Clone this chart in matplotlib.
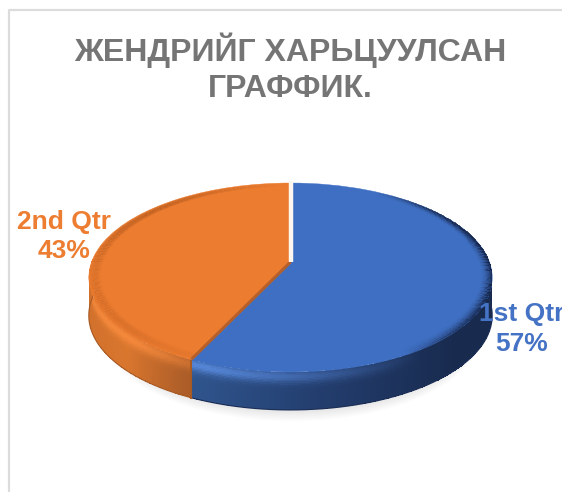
# 3D looking pie chart, two quarters
import numpy as np
import matplotlib
matplotlib.use('Agg')
import matplotlib.pyplot as plt
from matplotlib.patches import PathPatch, Ellipse
from matplotlib.path import Path
from matplotlib.colors import to_rgb

plt.rcParams['font.family'] = ['Liberation Sans', 'DejaVu Sans']

title = 'ЖЕНДРИЙГ ХАРЬЦУУЛСАН\nГРАФФИК.'
categories = ['1st Qtr', '2nd Qtr']
values = [57, 43]
colors = ['#3f6fc2', '#ec7c30']
label_colors = ['#4472c4', '#ed7d31']

# rim colours: (left, middle, right) going across the front of the pie
rim_blue = ['#30568f', '#223c6c', '#182a4d']
rim_orange = ['#d0702c', '#d9762e', '#ac5d28']
glow_blue = '#5b8de2'
glow_orange = '#f88b3d'

# pie geometry in pixels of the picture
W, H = 562, 492
CX, CY = 290.5, 262
R = 199.0
TILT = 0.462
PERSP = 0.164
DEPTH = 38 / R


def project(x, y):
    # flat unit disc -> tilted disc, back of the pie is smaller than the front
    s = 1 / (1 + PERSP * y)
    return x * s, y * s * TILT


def px(x, y):
    # picture pixels -> data coordinates
    return (x - CX) / R, (CY - y) / R


def mix(a, b, t):
    return np.array(a) * (1 - t) + np.array(b) * t


fig = plt.figure(figsize=(W / 100, H / 100), dpi=100, facecolor='white')
ax = fig.add_axes([0, 0, 1, 1])

wedges, _ = ax.pie(values, colors=colors, startangle=90, counterclock=False)
ax.set_aspect('auto')
x0, y0 = px(0, H)
x1, y1 = px(W, 0)
ax.set_xlim(x0, x1)
ax.set_ylim(y0, y1)
ax.axis('off')

# frame of the chart area, only left and top are in the picture
fx, fy = px(8.5, H)
gx, gy = px(8.5, 10.5)
hx, hy = px(W, 10.5)
ax.plot([fx, gx, hx], [fy, gy, hy], color='#dcdcdc', lw=1.6, zorder=1)

# soft shadow under the pie
sx, sy = px(292, 330)
for k in range(14):
    ax.add_patch(Ellipse((sx, sy), 2 * (0.90 + 0.0045 * k), 2 * (0.40 + 0.0045 * k),
                         fc='#999999', ec='none', alpha=0.02, zorder=2))

tt = np.linspace(0, 1, 25)
for w, rim, glow, edge in zip(wedges, [rim_blue, rim_orange], [glow_blue, glow_orange],
                              ['#1c2f57', '#a85a25']):
    # side of the slice, only the front half can be seen
    ang = np.radians(np.linspace(w.theta1, w.theta2, 300))
    ang = ang[np.sin(ang) < 0.05]
    if len(ang) < 2:
        continue
    ex, ey = project(np.cos(ang), np.sin(ang))
    X = np.array([ex for t in tt])
    Y = np.array([ey - DEPTH * t for t in tt])
    C = np.zeros((len(tt) - 1, len(ang) - 1, 3))
    for i in range(len(tt) - 1):
        tm = (tt[i] + tt[i + 1]) / 2
        for j in range(len(ang) - 1):
            xm = np.cos((ang[j] + ang[j + 1]) / 2)
            # horizontal shading
            if w is wedges[0]:
                u = np.clip((xm + 0.45) / 1.2, 0, 1)
            else:
                u = np.clip((xm + 1) / 0.55, 0, 1)
            if u < 0.5:
                c = mix(to_rgb(rim[0]), to_rgb(rim[1]), u * 2)
            else:
                c = mix(to_rgb(rim[1]), to_rgb(rim[2]), u * 2 - 1)
            # lighter band at the top of the side
            g = np.exp(-((tm - 0.12) / 0.17) ** 2)
            if w is wedges[0]:
                g = g * np.clip(1.1 - 1.3 * u, 0, 1)
            else:
                g = g * np.clip(1.2 - 1.2 * abs(u - 0.4), 0, 1)
            c = mix(c, to_rgb(glow), 0.85 * g)
            C[i, j] = np.clip(c, 0, 1)
    ax.pcolormesh(X, Y, C, shading='flat', zorder=3, antialiased=False, edgecolors='none')
    # smooth the bottom edge of the side and close its left end
    ax.plot(ex, ey - DEPTH, color=edge, lw=0.8, zorder=3.5)

# darker end of the orange side where it meets the blue one
a = np.radians(wedges[0].theta1)
bx, by = project(np.cos(a), np.sin(a))
ax.plot([bx, bx], [by, by - DEPTH], color='#a85a25', lw=1.5, zorder=3.6)

# top faces from the wedges of the pie, bent with the projection
for w in list(wedges):
    p = w.get_patch_transform().transform_path(w.get_path())
    vx, vy = project(p.vertices[:, 0], p.vertices[:, 1])
    face = w.get_facecolor()
    w.remove()
    ax.add_patch(PathPatch(Path(np.column_stack([vx, vy]), p.codes),
                           fc=face, ec=face, lw=0.3, zorder=4))

# bevel round the edge of the top face
rr = np.linspace(0.94, 1.0, 13)
for w, base in zip(wedges, colors):
    ang = np.radians(np.linspace(w.theta1, w.theta2, 300))
    X = np.array([project(r * np.cos(ang), r * np.sin(ang))[0] for r in rr])
    Y = np.array([project(r * np.cos(ang), r * np.sin(ang))[1] for r in rr])
    C = np.zeros((len(rr) - 1, len(ang) - 1, 4))
    for i in range(len(rr) - 1):
        f = (i + 0.5) / (len(rr) - 1)
        for j in range(len(ang) - 1):
            a = (ang[j] + ang[j + 1]) / 2
            cx = np.cos(a)
            sn = np.sin(a)
            if cx > 0:
                # dark only near the right hand side
                C[i, j] = (0.07, 0.12, 0.25, f ** 2 * np.clip(cx * 2 - 1, 0, 1) * 0.85)
            elif w is wedges[1]:
                C[i, j] = (0.65, 0.32, 0.1, 0.3 * np.sin(np.pi * f) * np.clip(0.7 + 0.5 * sn, 0, 1) * np.clip(-cx * 1.4, 0, 1))
            else:
                C[i, j] = (1, 1, 1, 0)
    ax.pcolormesh(X, Y, C, shading='flat', zorder=5, antialiased=False, edgecolors='none')

# cut side of the orange slice and the white gap at twelve o'clock
a = np.radians(wedges[0].theta1)
bx, by = project(np.cos(a) * 0.995, np.sin(a) * 0.995)
ax.plot([0, bx], [0, by], color='#b5602a', lw=2.2, zorder=6, solid_capstyle='butt')
tx, ty = project(0, 1.0)
ax.plot([0, tx], [0, ty + 0.01], color='#fdf6ef', lw=3.2, zorder=7, solid_capstyle='butt')

# labels
lab_pos = [(521.5, 329), (64, 236.5)]
for cat, v, col, pos in zip(categories, values, label_colors, lab_pos):
    lx, ly = px(*pos)
    ax.text(lx, ly, '{}\n{}%'.format(cat, v), color=col, fontsize=19, fontweight='bold',
            ha='center', va='center', linespacing=1.28, zorder=8, clip_on=True)

tx, ty = px(290, 68.5)
ax.text(tx, ty, title, color='#757575', fontsize=23, fontweight='bold',
        ha='center', va='center', linespacing=1.25, zorder=8)

fig.savefig('out.png', dpi=100, facecolor='white')
